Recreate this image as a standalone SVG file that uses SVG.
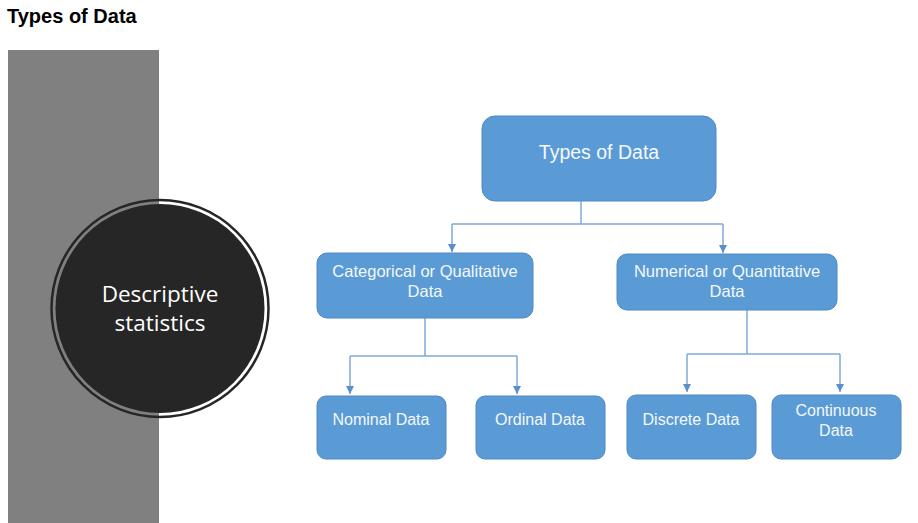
<svg xmlns="http://www.w3.org/2000/svg" width="918" height="523" viewBox="0 0 918 523">
<style>
.box{fill:#5B9BD5;stroke:#4F89C4;stroke-width:1}
.lbl{font-family:"Liberation Sans",Arial,sans-serif;font-size:16.5px;fill:#F4F8FC;text-anchor:middle}
.conn{fill:none;stroke:#7FA9D9;stroke-width:1.5}
</style>
<defs>
<marker id="arr" markerWidth="8" markerHeight="8" refX="8" refY="4" orient="auto" markerUnits="userSpaceOnUse" viewBox="0 0 8 8">
<path d="M0,0 L8,4 L0,8 Z" fill="#5B8FCB"/>
</marker>
</defs>
<rect width="918" height="523" fill="#FFFFFF"/>
<text x="7" y="23" font-family="Liberation Sans,Arial,sans-serif" font-weight="bold" font-size="20" fill="#000">Types of Data</text>
<rect x="8" y="50" width="151" height="473" fill="#808080"/>
<g id="descriptive">
<circle cx="160" cy="308.5" r="108.5" fill="none" stroke="#262626" stroke-width="2.5"/>
<circle cx="160" cy="308.5" r="104.5" fill="#262626"/>
<text x="160" y="302" font-family="Open Sans,Noto Sans,sans-serif" font-size="22.5" fill="#FFFFFF" text-anchor="middle">Descriptive</text>
<text x="160" y="331" font-family="Open Sans,Noto Sans,sans-serif" font-size="22.5" fill="#FFFFFF" text-anchor="middle">statistics</text>
</g>
<g id="connectors">
<path class="conn" d="M581,201 V224 M452,224 H723" />
<path class="conn" d="M452,224 V252" marker-end="url(#arr)"/>
<path class="conn" d="M723,224 V253" marker-end="url(#arr)"/>
<path class="conn" d="M425,318 V356 M350,356 H517"/>
<path class="conn" d="M350,356 V394" marker-end="url(#arr)"/>
<path class="conn" d="M517,356 V394" marker-end="url(#arr)"/>
<path class="conn" d="M747,310 V354 M687,354 H840"/>
<path class="conn" d="M687,354 V392" marker-end="url(#arr)"/>
<path class="conn" d="M840,354 V392" marker-end="url(#arr)"/>
</g>
<g id="types">
<rect class="box" x="482" y="116" width="234" height="85" rx="13"/>
<text class="lbl" x="599" y="159" style="font-size:19.5px">Types of Data</text>
</g>
<g id="categorical">
<rect class="box" x="317" y="253" width="216" height="65" rx="10"/>
<text class="lbl" x="425" y="277">Categorical or Qualitative</text>
<text class="lbl" x="425" y="297">Data</text>
</g>
<g id="numerical">
<rect class="box" x="617" y="254" width="220" height="56" rx="10"/>
<text class="lbl" x="727" y="277">Numerical or Quantitative</text>
<text class="lbl" x="727" y="297">Data</text>
</g>
<g id="nominal">
<rect class="box" x="317" y="396" width="129" height="63" rx="9"/>
<text class="lbl" x="381" y="425" style="font-size:16px">Nominal Data</text>
</g>
<g id="ordinal">
<rect class="box" x="476" y="396" width="129" height="63" rx="9"/>
<text class="lbl" x="540" y="425" style="font-size:16px">Ordinal Data</text>
</g>
<g id="discrete">
<rect class="box" x="627" y="395" width="129" height="64" rx="9"/>
<text class="lbl" x="691" y="425" style="font-size:16px">Discrete Data</text>
</g>
<g id="continuous">
<rect class="box" x="772" y="395" width="129" height="64" rx="9"/>
<text class="lbl" x="836" y="416" style="font-size:16px">Continuous</text>
<text class="lbl" x="836" y="436" style="font-size:16px">Data</text>
</g>
</svg>
